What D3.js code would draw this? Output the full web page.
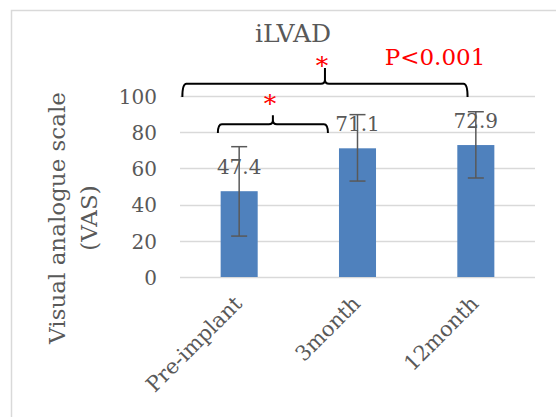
<!DOCTYPE html>
<html>
<head>
<meta charset="utf-8">
<script src="https://cdn.jsdelivr.net/npm/d3@7"></script>
<style>
  body { margin: 0; background: #fff; }
  svg { display: block; }
  text { font-family: "DejaVu Serif", serif; }
</style>
</head>
<body>
<div class="chart_area"></div>
<script>
// data
var categories = ["Pre-implant", "3month", "12month"];
var values = [47.4, 71.1, 72.9];
var errPlus = [24.6, 18.6, 18.4];
var errMinus = [24.8, 18.1, 18.2];
var yTicks = [0, 20, 40, 60, 80, 100];

// significance braces: from/to in category units, base/top/tip/star in axis units
var braceFrom = [-0.18, -0.48];
var braceTo = [0.75, 1.93];
var braceBase = [79.5, 99.4];
var braceTop = [84.4, 106.7];
var braceTip = [89.3, 115.5];
var starAt = [98.3, 118.8];

var width = 556, height = 417;
var margin = { top: 96, right: 21, bottom: 140, left: 180 };
var plotW = width - margin.left - margin.right,
    plotH = height - margin.top - margin.bottom;

var svg = d3.select(".chart_area")
    .append("svg")
    .attr("width", width)
    .attr("height", height);

// outer chart border (runs off the right and bottom edges)
svg.append("rect")
    .attr("x", 11.5).attr("y", 10.5)
    .attr("width", 600).attr("height", 500)
    .attr("fill", "none")
    .attr("stroke", "#d9d9d9")
    .attr("stroke-width", 1.5);

var g = svg.append("g")
    .attr("transform", "translate(" + margin.left + "," + margin.top + ")");

var x = d3.scaleBand()
    .domain(categories)
    .range([0, plotW])
    .padding(0);

var y = d3.scaleLinear()
    .domain([0, 100])
    .range([plotH, 0]);

// category units -> pixels (for annotations)
var cx = d3.scaleLinear()
    .domain([0, 1])
    .range([x(categories[0]) + x.bandwidth() / 2, x(categories[1]) + x.bandwidth() / 2]);

// grid
g.selectAll(".grid")
    .data(yTicks)
    .enter()
    .append("line")
    .attr("class", "grid")
    .attr("x1", 0)
    .attr("x2", plotW)
    .attr("y1", function (d) { return Math.round(y(d)) + 0.5; })
    .attr("y2", function (d) { return Math.round(y(d)) + 0.5; })
    .attr("stroke", "#d9d9d9")
    .attr("stroke-width", 1.5);

// y axis labels
var y_axis = g.append("g")
    .attr("class", "y-axis")
    .attr("transform", "translate(-23,0)")
    .call(d3.axisLeft(y).tickValues(yTicks).tickSize(0).tickPadding(0));

y_axis.select(".domain").remove();
y_axis.selectAll("text")
    .style("font-family", "DejaVu Serif")
    .style("font-size", "20px")
    .style("fill", "#595959")
    .attr("dy", "0.36em");

// x axis labels
var x_axis = g.append("g")
    .attr("class", "x-axis")
    .attr("transform", "translate(0," + plotH + ")")
    .call(d3.axisBottom(x).tickSize(0).tickPadding(0));

x_axis.select(".domain").remove();
x_axis.selectAll("text")
    .style("font-family", "DejaVu Serif")
    .style("font-size", "21px")
    .style("fill", "#595959")
    .style("text-anchor", "end")
    .attr("dy", 0)
    .attr("y", 0)
    .attr("transform", "translate(4,28) rotate(-45)");

// bars
var barW = x.bandwidth() * 0.313;
g.selectAll(".bar_rect")
    .data(values)
    .enter()
    .append("rect")
    .attr("class", "bar_rect")
    .attr("x", function (d, i) { return x(categories[i]) + (x.bandwidth() - barW) / 2; })
    .attr("y", function (d) { return y(d); })
    .attr("width", barW)
    .attr("height", function (d) { return y(0) - y(d); })
    .attr("fill", "#4f81bd");

// value labels
g.selectAll(".val_label")
    .data(values)
    .enter()
    .append("text")
    .attr("class", "val_label")
    .attr("x", function (d, i) { return x(categories[i]) + x.bandwidth() / 2; })
    .attr("y", function (d) { return y(d) - 17; })
    .attr("text-anchor", "middle")
    .style("font-size", "20px")
    .style("fill", "#595959")
    .text(function (d) { return d.toFixed(1); });

// error bars
var errG = g.selectAll(".err")
    .data(values)
    .enter()
    .append("g")
    .attr("class", "err")
    .attr("stroke", "#595959")
    .attr("stroke-width", 1.5);

errG.append("line")
    .attr("x1", function (d, i) { return x(categories[i]) + x.bandwidth() / 2; })
    .attr("x2", function (d, i) { return x(categories[i]) + x.bandwidth() / 2; })
    .attr("y1", function (d, i) { return y(d + errPlus[i]); })
    .attr("y2", function (d, i) { return y(d - errMinus[i]); });

[errPlus, errMinus].forEach(function (arr, k) {
    errG.append("line")
        .attr("x1", function (d, i) { return x(categories[i]) + x.bandwidth() / 2 - 8; })
        .attr("x2", function (d, i) { return x(categories[i]) + x.bandwidth() / 2 + 8; })
        .attr("y1", function (d, i) { return y(k == 0 ? d + arr[i] : d - arr[i]); })
        .attr("y2", function (d, i) { return y(k == 0 ? d + arr[i] : d - arr[i]); });
});

// braces
function bracePath(i) {
    var x1 = cx(braceFrom[i]), x2 = cx(braceTo[i]), xm = (x1 + x2) / 2;
    var yb = y(braceBase[i]), yt = y(braceTop[i]), yp = y(braceTip[i]);
    var r = 4;
    return "M" + x1 + "," + yb +
        " Q" + x1 + "," + yt + " " + (x1 + r) + "," + yt +
        " L" + (xm - r) + "," + yt +
        " Q" + xm + "," + yt + " " + xm + "," + (yt - r) +
        " L" + xm + "," + yp +
        " M" + xm + "," + (yt - r) +
        " Q" + xm + "," + yt + " " + (xm + r) + "," + yt +
        " L" + (x2 - r) + "," + yt +
        " Q" + x2 + "," + yt + " " + x2 + "," + yb;
}

g.selectAll(".brace")
    .data(braceFrom)
    .enter()
    .append("path")
    .attr("class", "brace")
    .attr("d", function (d, i) { return bracePath(i); })
    .attr("fill", "none")
    .attr("stroke", "#000")
    .attr("stroke-width", 2);

g.selectAll(".star")
    .data(starAt)
    .enter()
    .append("text")
    .attr("class", "star")
    .attr("x", function (d, i) { return (cx(braceFrom[i]) + cx(braceTo[i])) / 2 - 3; })
    .attr("y", function (d) { return y(d) + 12.5; })
    .attr("text-anchor", "middle")
    .style("font-size", "25px")
    .style("fill", "#ff0000")
    .text("*");

// p value
svg.append("text")
    .attr("x", 435)
    .attr("y", 65)
    .attr("text-anchor", "middle")
    .style("font-size", "23px")
    .style("fill", "#ff0000")
    .text("P<0.001");

// title
svg.append("text")
    .attr("x", 293)
    .attr("y", 42)
    .attr("text-anchor", "middle")
    .style("font-size", "25px")
    .style("fill", "#595959")
    .text("iLVAD");

// y axis title
var yTitle = svg.append("text")
    .attr("transform", "translate(0,218) rotate(-90)")
    .attr("text-anchor", "middle")
    .style("font-size", "23px")
    .style("fill", "#595959");

yTitle.append("tspan").attr("x", 0).attr("y", 65).text("Visual analogue scale");
yTitle.append("tspan").attr("x", 0).attr("y", 97).text("(VAS)");
</script>
</body>
</html>
